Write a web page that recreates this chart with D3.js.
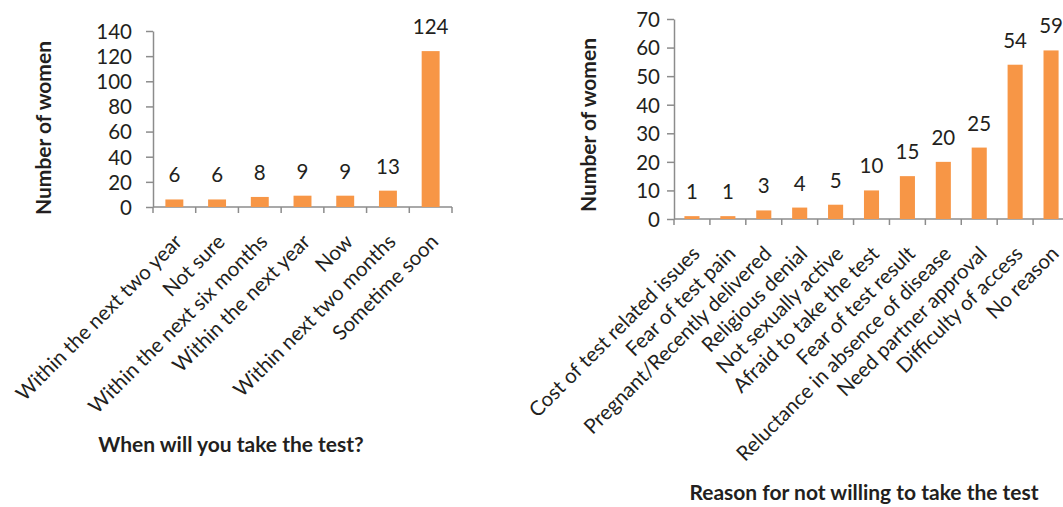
<!DOCTYPE html>
<html>
<head>
<meta charset="utf-8">
<script src="https://cdn.jsdelivr.net/npm/d3@7"></script>
<style>
  html, body { margin: 0; padding: 0; background: #fff; }
  svg { display: block; }
  text { font-family: Lato, "Open Sans", sans-serif; fill: #231f20; }
</style>
</head>
<body>
<svg id="chart" width="1063" height="507"></svg>
<script>
// Survey answers: when women plan to take the test
const whenCategories = [
  "Within the next two year",
  "Not sure",
  "Within the next six months",
  "Within the next year",
  "Now",
  "Within next two months",
  "Sometime soon"
];
const whenCounts = [6, 6, 8, 9, 9, 13, 124];
const whenTicks = [0, 20, 40, 60, 80, 100, 120, 140];

// Survey answers: reasons for not being willing to take the test
const reasonCategories = [
  "Cost of test related issues",
  "Fear of test pain",
  "Pregnant/Recently delivered",
  "Religious denial",
  "Not sexually active",
  "Afraid to take the test",
  "Fear of test result",
  "Reluctance in absence of disease",
  "Need partner approval",
  "Difficulty of access",
  "No reason"
];
const reasonCounts = [1, 1, 3, 4, 5, 10, 15, 20, 25, 54, 59];
const reasonTicks = [0, 10, 20, 30, 40, 50, 60, 70];

const yTitle = "Number of women";
const whenTitle = "When will you take the test?";
const reasonTitle = "Reason for not willing to take the test";

const BAR = "#f79646";
const AXIS = "#8c8c8c";
const FS = 20.5;

const svg = d3.select("#chart");

function drawPanel(opt) {
  const g = svg.append("g");
  const x = d3.scaleBand()
    .domain(opt.categories)
    .range([opt.x0, opt.x1])
    .paddingInner(0.58)
    .paddingOuter(0.29);
  const y = d3.scaleLinear()
    .domain([0, d3.max(opt.ticks)])
    .range([opt.y0, opt.y1]);
  const step = x.step();
  const slot = d => x(d) - (step - x.bandwidth()) / 2;

  // y axis
  const yAxis = d3.axisLeft(y)
    .tickValues(opt.ticks)
    .tickSize(7)
    .tickSizeOuter(0)
    .tickPadding(opt.tickPad);
  const ya = g.append("g")
    .attr("transform", `translate(${opt.x0},0)`)
    .call(yAxis);
  ya.selectAll("path, line").attr("stroke", AXIS).attr("stroke-width", 1.5);
  ya.selectAll("text")
    .attr("font-size", FS)
    .attr("font-family", "Lato, sans-serif")
    .attr("fill", "#231f20")
    .attr("dy", "0.36em");

  // x axis line with ticks at category boundaries
  g.append("line")
    .attr("x1", opt.x0).attr("x2", opt.x1)
    .attr("y1", opt.y0).attr("y2", opt.y0)
    .attr("stroke", AXIS).attr("stroke-width", 1.5);
  const bounds = opt.categories.map(slot).concat([opt.x1]);
  g.selectAll(".xtick").data(bounds).join("line")
    .attr("x1", d => d).attr("x2", d => d)
    .attr("y1", opt.y0).attr("y2", opt.y0 + 6)
    .attr("stroke", AXIS).attr("stroke-width", 1.5);

  // bars
  const rows = opt.categories.map((c, i) => ({ c, v: opt.values[i] }));
  g.selectAll(".bar").data(rows).join("rect")
    .attr("x", d => x(d.c))
    .attr("width", x.bandwidth())
    .attr("y", d => y(d.v))
    .attr("height", d => opt.y0 - y(d.v))
    .attr("fill", BAR);

  // value labels
  g.selectAll(".val").data(rows).join("text")
    .attr("x", d => x(d.c) + x.bandwidth() / 2)
    .attr("y", d => y(d.v) - 17)
    .attr("text-anchor", "middle")
    .attr("font-size", FS)
    .text(d => d.v);

  // rotated category labels
  g.selectAll(".cat").data(opt.categories).join("text")
    .attr("transform", d =>
      `translate(${x(d) + x.bandwidth() / 2 + 9},${opt.y0 + 36}) rotate(-45)`)
    .attr("text-anchor", "end")
    .attr("font-size", FS)
    .text(d => d);

  // y title
  g.append("text")
    .attr("transform", `translate(${opt.yTitleX},${opt.yTitleY}) rotate(-90)`)
    .attr("text-anchor", "middle")
    .attr("dy", "0.36em")
    .attr("font-size", 21)
    .attr("font-weight", "bold")
    .text(yTitle);

  // x title
  g.append("text")
    .attr("x", opt.xTitleX)
    .attr("y", opt.xTitleY)
    .attr("text-anchor", "middle")
    .attr("font-size", 21)
    .attr("font-weight", "bold")
    .text(opt.title);
}

drawPanel({
  categories: whenCategories, values: whenCounts, ticks: whenTicks,
  x0: 153, x1: 452, y0: 207, y1: 31, tickPad: 14,
  yTitleX: 43, yTitleY: 128, xTitleX: 231, xTitleY: 452, title: whenTitle
});

drawPanel({
  categories: reasonCategories, values: reasonCounts, ticks: reasonTicks,
  x0: 674, x1: 1069, y0: 219, y1: 19, tickPad: 7,
  yTitleX: 588, yTitleY: 125, xTitleX: 864, xTitleY: 500, title: reasonTitle
});
</script>
</body>
</html>
